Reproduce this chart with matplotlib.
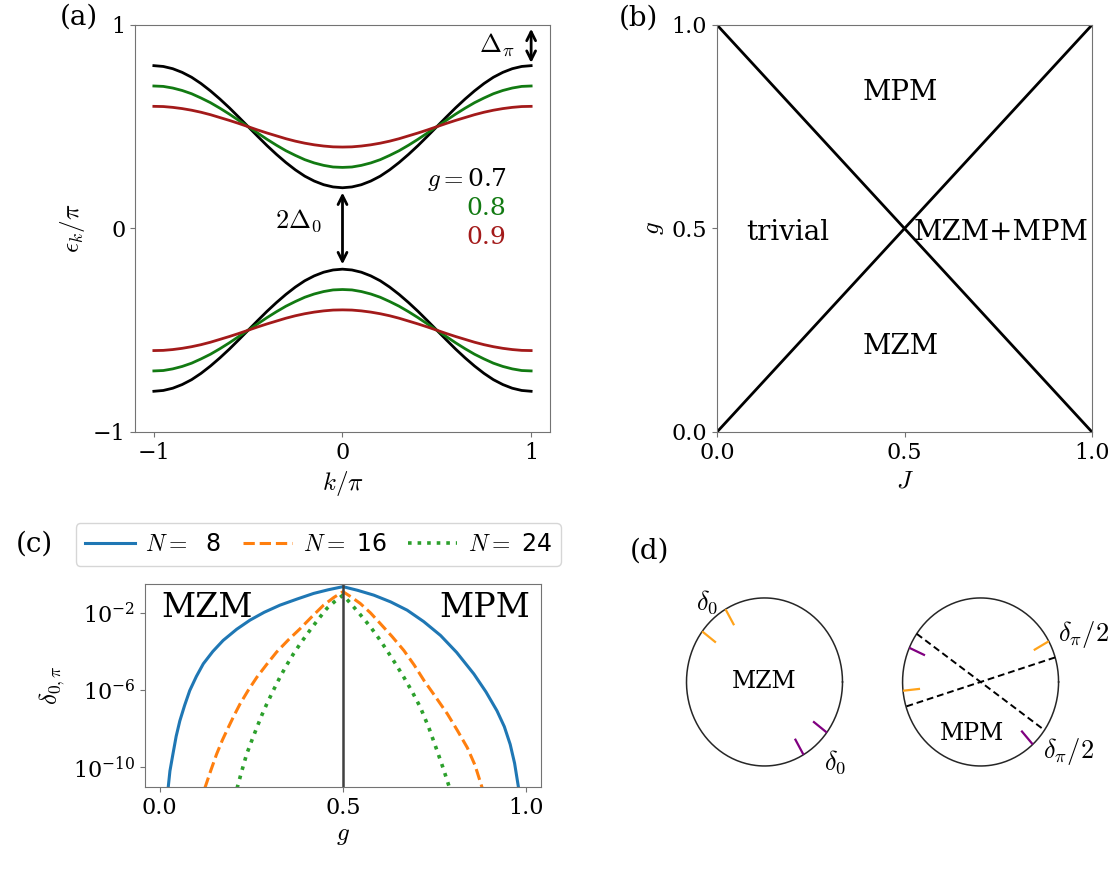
import numpy as np
import matplotlib.pyplot as plt
from matplotlib.ticker import FixedLocator, NullLocator

plt.rcParams['font.family'] = 'DejaVu Serif'
plt.rcParams['mathtext.fontset'] = 'cm'
plt.rcParams['font.size'] = 16
plt.rcParams['axes.edgecolor'] = '0.45'
plt.rcParams['xtick.color'] = '0.45'
plt.rcParams['ytick.color'] = '0.45'
plt.rcParams['xtick.labelcolor'] = 'black'
plt.rcParams['ytick.labelcolor'] = 'black'

# (a) band dispersion, upper band read at k/pi = 0, 0.05, ..., 1 (symmetric in k)
k_half = [0.0, 0.05, 0.1, 0.15, 0.2, 0.25, 0.3, 0.35, 0.4, 0.45, 0.5,
          0.55, 0.6, 0.65, 0.7, 0.75, 0.8, 0.85, 0.9, 0.95, 1.0]
band_g07 = [0.200, 0.204, 0.215, 0.233, 0.257, 0.288, 0.324, 0.364, 0.407, 0.453, 0.500,
            0.547, 0.593, 0.636, 0.676, 0.712, 0.743, 0.767, 0.785, 0.796, 0.800]
band_g08 = [0.300, 0.302, 0.310, 0.322, 0.338, 0.359, 0.382, 0.409, 0.438, 0.469, 0.500,
            0.531, 0.562, 0.591, 0.618, 0.641, 0.662, 0.678, 0.690, 0.698, 0.700]
band_g09 = [0.400, 0.401, 0.405, 0.411, 0.419, 0.429, 0.441, 0.455, 0.469, 0.484, 0.500,
            0.516, 0.531, 0.545, 0.559, 0.571, 0.581, 0.589, 0.595, 0.599, 0.600]
g_labels = ['0.7', '0.8', '0.9']
band_colors = ['black', '#127a12', '#a31a1a']

# (b) phase boundaries
J_line = [0.0, 1.0]
boundary_up = [0.0, 1.0]
boundary_down = [1.0, 0.0]

# (c) splitting vs g, log10 values
g_n8 = [0.023, 0.028, 0.036, 0.045, 0.055, 0.068, 0.082, 0.1, 0.119, 0.145, 0.173,
        0.21, 0.246, 0.285, 0.328, 0.375, 0.42, 0.46, 0.5,
        0.54, 0.584, 0.63, 0.675, 0.72, 0.766, 0.81, 0.857, 0.89, 0.92, 0.94, 0.956,
        0.968, 0.979]
log_n8 = [-11.1, -10.2, -9.34, -8.4, -7.6, -6.8, -6.03, -5.3, -4.64, -4.0, -3.43,
          -2.85, -2.38, -1.97, -1.60, -1.28, -0.99, -0.80, -0.64,
          -0.83, -1.08, -1.43, -1.86, -2.45, -3.17, -4.05, -5.17, -6.1, -7.08, -7.9, -8.82,
          -9.8, -11.1]
g_n16 = [0.123, 0.139, 0.155, 0.171, 0.187, 0.203, 0.219, 0.242, 0.265, 0.292, 0.319,
         0.351, 0.383, 0.415, 0.447, 0.475, 0.5,
         0.522, 0.547, 0.575, 0.602, 0.634, 0.666, 0.694, 0.721, 0.753, 0.785, 0.812,
         0.839, 0.86, 0.880]
log_n16 = [-11.1, -10.2, -9.34, -8.6, -7.95, -7.32, -6.73, -6.0, -5.34, -4.67, -4.03,
           -3.4, -2.82, -2.2, -1.60, -1.2, -0.90,
           -1.17, -1.51, -2.0, -2.56, -3.23, -3.95, -4.7, -5.51, -6.37, -7.25, -8.1,
           -8.99, -9.9, -11.1]
g_n24 = [0.211, 0.224, 0.237, 0.251, 0.265, 0.278, 0.292, 0.31, 0.328, 0.346, 0.365,
         0.387, 0.41, 0.433, 0.456, 0.478, 0.5,
         0.514, 0.529, 0.552, 0.575, 0.598, 0.62, 0.643, 0.666, 0.689, 0.711, 0.734,
         0.757, 0.774, 0.791]
log_n24 = [-11.1, -10.2, -9.34, -8.63, -7.95, -7.33, -6.73, -6.02, -5.34, -4.72, -4.12,
           -3.5, -2.9, -2.32, -1.77, -1.4, -1.08,
           -1.37, -1.69, -2.2, -2.73, -3.33, -3.95, -4.63, -5.34, -6.1, -6.9, -7.95,
           -9.17, -10.1, -11.1]
sizes = [8, 16, 24]

# (d) marker angles on the circles (degrees)
mzm_orange = [120, 143]
mzm_purple = [-60, -37]
mpm_diameters = [145, 17]
mpm_orange = [29, 186]
mpm_purple = [156, -48]

fig = plt.figure(figsize=(11.12, 8.69), dpi=100)

# ---- (a)
ax = fig.add_axes([0.1214, 0.5029, 0.3732, 0.4684])
k = np.concatenate([-np.array(k_half[::-1]), np.array(k_half[1:])])
for band, col in zip([band_g07, band_g08, band_g09], band_colors):
    b = np.array(band)
    up = np.concatenate([b[::-1], b[1:]])
    ax.plot(k, up, color=col, lw=2)
    ax.plot(k, -up, color=col, lw=2)
ax.set_xlim(-1.1, 1.1)
ax.set_ylim(-1, 1)
ax.set_xticks([-1, 0, 1])
ax.set_yticks([-1, 0, 1])
ax.set_xlabel(r'$k/\pi$', fontsize=18)
ax.set_ylabel(r'$\epsilon_k/\pi$', fontsize=18)
ax.annotate('', xy=(0, -band_g07[0] + 0.01), xytext=(0, band_g07[0] - 0.01),
            arrowprops=dict(arrowstyle='<->', color='black', lw=2))
ax.annotate('', xy=(1, 0.995), xytext=(1, band_g07[-1]),
            arrowprops=dict(arrowstyle='<->', color='black', lw=2))
ax.text(-0.11, 0.04, r'$2\Delta_0$', ha='right', va='center', fontsize=19)
ax.text(0.91, 0.9, r'$\Delta_\pi$', ha='right', va='center', fontsize=19)
ax.text(0.87, 0.24, r'$g=$' + g_labels[0], ha='right', va='center', color=band_colors[0], fontsize=18)
ax.text(0.87, 0.10, g_labels[1], ha='right', va='center', color=band_colors[1], fontsize=18)
ax.text(0.87, -0.045, g_labels[2], ha='right', va='center', color=band_colors[2], fontsize=18)

# ---- (b)
ax = fig.add_axes([0.6448, 0.5029, 0.3372, 0.4684])
ax.plot(J_line, boundary_up, color='black', lw=2)
ax.plot(J_line, boundary_down, color='black', lw=2)
ax.set_xlim(0, 1)
ax.set_ylim(0, 1)
ax.set_xticks([0, 0.5, 1.0])
ax.set_yticks([0, 0.5, 1.0])
ax.set_xlabel(r'$J$', fontsize=18)
ax.set_ylabel(r'$g$', fontsize=18)
ax.text(0.49, 0.835, 'MPM', ha='center', va='center', fontsize=20)
ax.text(0.19, 0.49, 'trivial', ha='center', va='center', fontsize=20)
ax.text(0.757, 0.49, 'MZM+MPM', ha='center', va='center', fontsize=20)
ax.text(0.49, 0.21, 'MZM', ha='center', va='center', fontsize=20)

# ---- (c)
ax = fig.add_axes([0.1304, 0.0944, 0.3561, 0.2336])
styles = ['-', '--', ':']
cols = ['tab:blue', 'tab:orange', 'tab:green']
handles = []
for gg, lv, n, ls, c in zip([g_n8, g_n16, g_n24], [log_n8, log_n16, log_n24], sizes, styles, cols):
    h, = ax.plot(gg, 10 ** np.array(lv), ls=ls, color=c, lw=2.2 if ls != ':' else 2.6,
                 label=f'$N=${n:3d}')
    handles.append(h)
ax.axvline(0.5, color='0.25', lw=1.8)
ax.set_yscale('log')
ax.set_xlim(-0.04, 1.04)
ax.set_ylim(10 ** -11.03, 10 ** -0.5)
ax.yaxis.set_major_locator(FixedLocator([1e-10, 1e-6, 1e-2]))
ax.yaxis.set_minor_locator(NullLocator())
ax.set_xticks([0, 0.5, 1.0])
ax.set_xlabel(r'$g$', fontsize=18)
ax.set_ylabel(r'$\delta_{0,\pi}$', fontsize=18)
ax.text(0.005, 10 ** -1.75, 'MZM', ha='left', va='center', fontsize=24)
ax.text(1.01, 10 ** -1.75, 'MPM', ha='right', va='center', fontsize=24)
fig.legend(handles=handles, loc='lower left', bbox_to_anchor=(0.068, 0.349), ncol=3,
           borderaxespad=0, handlelength=2.1, handletextpad=0.45, columnspacing=0.9,
           prop={'family': 'DejaVu Sans', 'size': 17})

# ---- (d)
ax = fig.add_axes([0.5935, 0.0794, 0.4065, 0.2647])
ax.set_xlim(-1.34, 4.455)
ax.set_ylim(-1.405, 1.333)
ax.axis('off')
t = np.linspace(0, 2 * np.pi, 300)
centers = [0.0, 2.77]
for cx in centers:
    ax.plot(cx + np.cos(t), np.sin(t), color='0.15', lw=1.1)


def marks(cx, angles, color):
    for a in angles:
        r = np.radians(a)
        ax.plot([cx + np.cos(r), cx + 0.78 * np.cos(r)], [np.sin(r), 0.78 * np.sin(r)],
                color=color, lw=1.6, solid_capstyle='butt')


marks(centers[0], mzm_orange, '#ffa31a')
marks(centers[0], mzm_purple, '#800080')
for a in mpm_diameters:
    r = np.radians(a)
    ax.plot([centers[1] + np.cos(r), centers[1] - np.cos(r)], [np.sin(r), -np.sin(r)],
            color='black', lw=1.4, ls=(0, (3.5, 2)))
marks(centers[1], mpm_orange, '#ffa31a')
marks(centers[1], mpm_purple, '#800080')
ax.text(0, 0, 'MZM', ha='center', va='center', fontsize=17)
ax.text(2.66, -0.61, 'MPM', ha='center', va='center', fontsize=17)
ax.text(-0.74, 0.95, r'$\delta_0$', ha='center', va='center', fontsize=19)
ax.text(0.90, -0.95, r'$\delta_0$', ha='center', va='center', fontsize=19)
ax.text(3.76, 0.56, r'$\delta_\pi/2$', ha='left', va='center', fontsize=19)
ax.text(3.57, -0.83, r'$\delta_\pi/2$', ha='left', va='center', fontsize=19)

# panel letters
fig.text(79 / 1112, 1 - 17 / 869, '(a)', ha='center', va='center', fontsize=20)
fig.text(638 / 1112, 1 - 18 / 869, '(b)', ha='center', va='center', fontsize=20)
fig.text(34 / 1112, 1 - 544 / 869, '(c)', ha='center', va='center', fontsize=20)
fig.text(650 / 1112, 1 - 551 / 869, '(d)', ha='center', va='center', fontsize=20)

fig.savefig('out.png', dpi=100)
